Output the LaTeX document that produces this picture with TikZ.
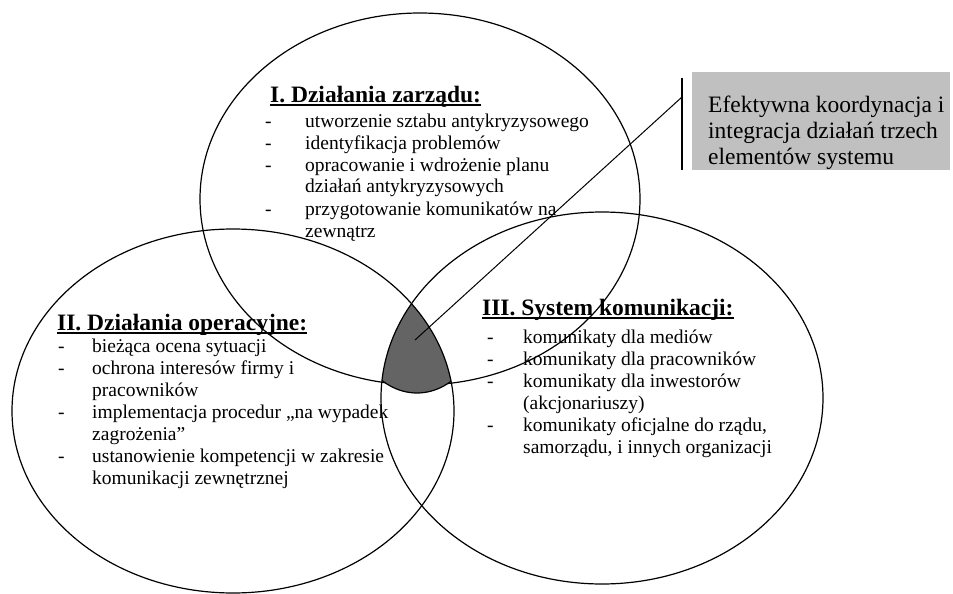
\documentclass[tikz,border=0pt]{standalone}
\usepackage{fontspec}
\setmainfont{Liberation Serif}
\definecolor{szary}{RGB}{192,192,192}
\definecolor{grafit}{RGB}{100,100,100}
\newcommand{\podkresl}[1]{\setbox0=\hbox{#1}\rlap{\rule[-3.5pt]{\wd0}{1.6pt}}\box0}
\newcommand{\punkty}[2]{\begin{tabular}[t]{@{}p{#1}@{}l@{}}#2\end{tabular}}
\newcommand{\wiersze}[1]{\begin{tabular}[t]{@{}l@{}}#1\end{tabular}}

\begin{document}
\begin{tikzpicture}[x=1pt,y=-1pt,
	obrys/.style={line width=1.2pt},
	naglowek/.style={anchor=base west,inner sep=0pt,font=\fontsize{23.5}{26}\selectfont\bfseries},
	lista/.style={anchor=base west,inner sep=0pt,font=\fontsize{19.5}{22}\selectfont},
	ramka/.style={anchor=base west,fill=szary,inner xsep=16pt,inner ysep=0pt,text height=40pt,text depth=58pt,font=\fontsize{23.5}{26}\selectfont}]

	\useasboundingbox (0,0) rectangle (953,594);

	% trzy obszary
	\draw[obrys] (420,199) ellipse [x radius=220pt, y radius=186pt];
	\begin{scope}
		\clip (233,411) ellipse [x radius=221pt, y radius=182pt];
		\clip (602,398) ellipse [x radius=221pt, y radius=186pt];
		\path[fill=grafit, draw=black, obrys] (417,300) ellipse [x radius=70pt, y radius=93pt];
	\end{scope}
	\draw[obrys] (233,411) ellipse [x radius=221pt, y radius=182pt];
	\draw[obrys] (602,398) ellipse [x radius=221pt, y radius=186pt];

	\node[naglowek] (tytulI) at (270,102) {\podkresl{I. Działania zarządu:}};
	\node[lista] (listaI) at (265,127) {\punkty{40pt}{%
		- & utworzenie sztabu antykryzysowego\\
		- & identyfikacja problemów\\
		- & opracowanie i wdrożenie planu\\
		  & działań antykryzysowych\\
		- & przygotowanie komunikatów na\\
		  & zewnątrz}};

	\node[naglowek] (tytulII) at (57,330) {\podkresl{II. Działania operacyjne:}};
	\node[lista] (listaII) at (58,352) {\punkty{34pt}{%
		- & bieżąca ocena sytuacji\\
		- & ochrona interesów firmy i\\
		  & pracowników\\
		- & implementacja procedur „na wypadek\\
		  & zagrożenia”\\
		- & ustanowienie kompetencji w zakresie\\
		  & komunikacji zewnętrznej}};

	\node[naglowek] (tytulIII) at (482,315) {\podkresl{III. System komunikacji:}};
	\node[lista] (listaIII) at (487,343) {\punkty{36pt}{%
		- & komunikaty dla mediów\\
		- & komunikaty dla pracowników\\
		- & komunikaty dla inwestorów\\
		  & (akcjonariuszy)\\
		- & komunikaty oficjalne do rządu,\\
		  & samorządu, i innych organizacji}};

	% objasnienie
	\node[ramka] (opis) at (692,112) {\makebox[226pt][l]{\wiersze{Efektywna koordynacja i\\integracja działań trzech\\elementów systemu}}};
	\coordinate (srodek) at (415,340);
	\coordinate (zaczep) at (682,97);
	\coordinate (gora) at (682,78);
	\coordinate (dol) at (682,170);
	\draw[line width=1.4pt] (gora) -- (dol);
	\draw[line width=1pt] (srodek) -- (zaczep);

\end{tikzpicture}
\end{document}
